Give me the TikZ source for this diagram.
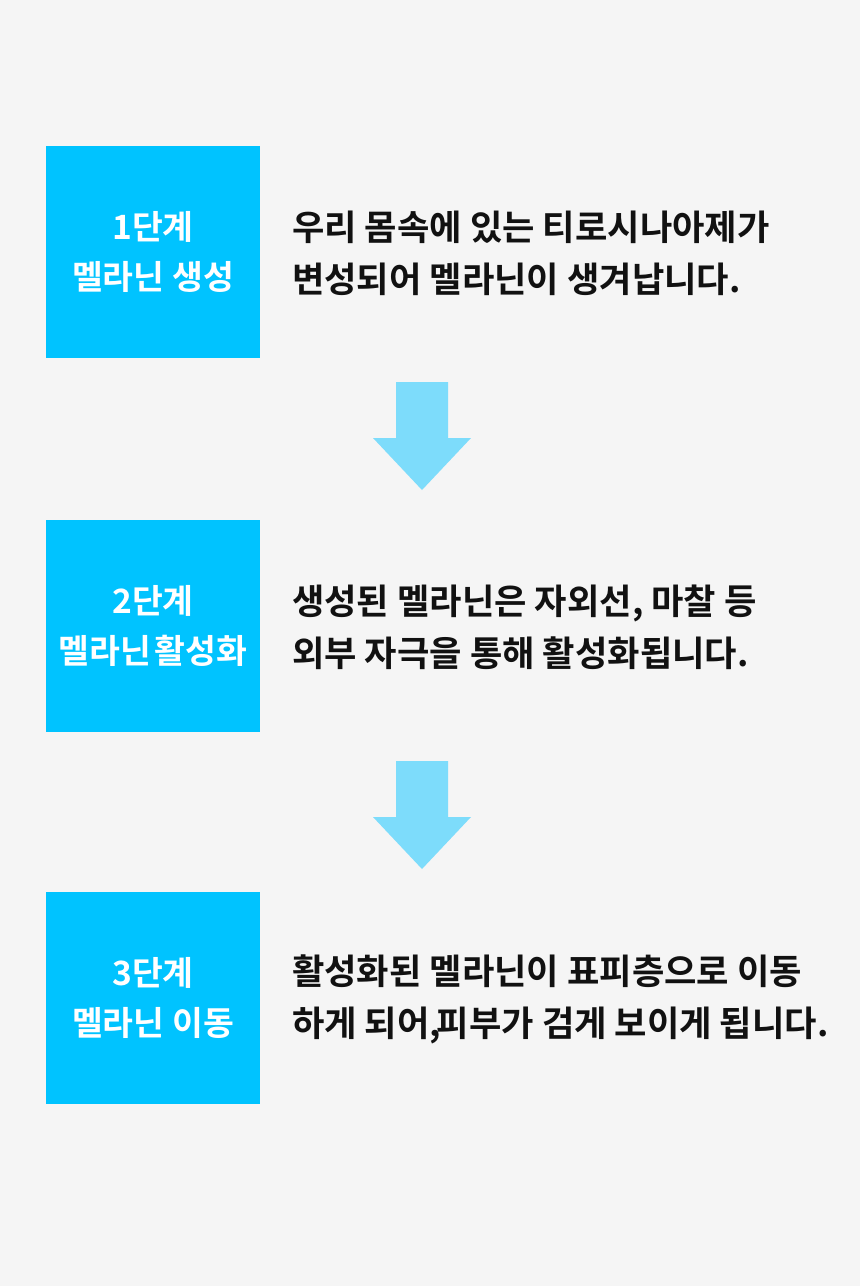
\documentclass[tikz,border=0pt]{standalone}
\usepackage{fontspec}
\setmainfont{Noto Sans CJK KR}[BoldFont={* Bold}]
\definecolor{bg}{HTML}{F5F5F5}
\definecolor{boxblue}{HTML}{00C3FF}
\definecolor{arrowblue}{HTML}{7DDCFB}
\definecolor{txt}{HTML}{111111}
\begin{document}
\begin{tikzpicture}[x=1pt,y=-1pt,
  stagebox/.style={fill=boxblue,draw=none,minimum width=214pt,minimum height=212pt,
    inner sep=0pt,text=white,align=center,font=\fontsize{33.5}{50}\selectfont\bfseries},
  desc/.style={anchor=west,inner sep=0pt,text=txt,align=left,font=\fontsize{35.2}{52}\selectfont\bfseries},
  downarrow/.style={fill=arrowblue,draw=none}]
\fill[bg] (0,0) rectangle (860,1286);
\useasboundingbox (0,0) rectangle (860,1286);
\node[stagebox] (s1) at (153,252) {1단계\\멜라닌 생성};
\node[stagebox] (s2) at (153,626) {2단계\\멜라닌\hspace{-0.12em} 활성화};
\node[stagebox] (s3) at (153,998) {3단계\\멜라닌 이동};
\node[desc] (d1) at (292,253) {우리 몸속에 있는 티로시나아제가\\변성되어 멜라닌이 생겨납니다.};
\node[desc] (d2) at (292,627) {생성된 멜라닌은 자외선, 마찰 등\\외부 자극을 통해 활성화됩니다.};
\node[desc] (d3) at (292,999) {활성화된 멜라닌이 표피층으로 이동\\하게 되어,\hspace{-0.12em}피부가 검게 보이게 됩니다.};
\coordinate (a1) at (422,382);
\coordinate (a2) at (422,761);
\foreach \a in {a1,a2}{
  \fill[downarrow] ([xshift=-26pt]\a) -- ([xshift=26pt]\a) -- ([xshift=26pt,yshift=-56pt]\a)
    -- ([xshift=49pt,yshift=-56pt]\a) -- ([yshift=-108pt]\a) -- ([xshift=-49pt,yshift=-56pt]\a)
    -- ([xshift=-26pt,yshift=-56pt]\a) -- cycle;
}
\end{tikzpicture}
\end{document}
